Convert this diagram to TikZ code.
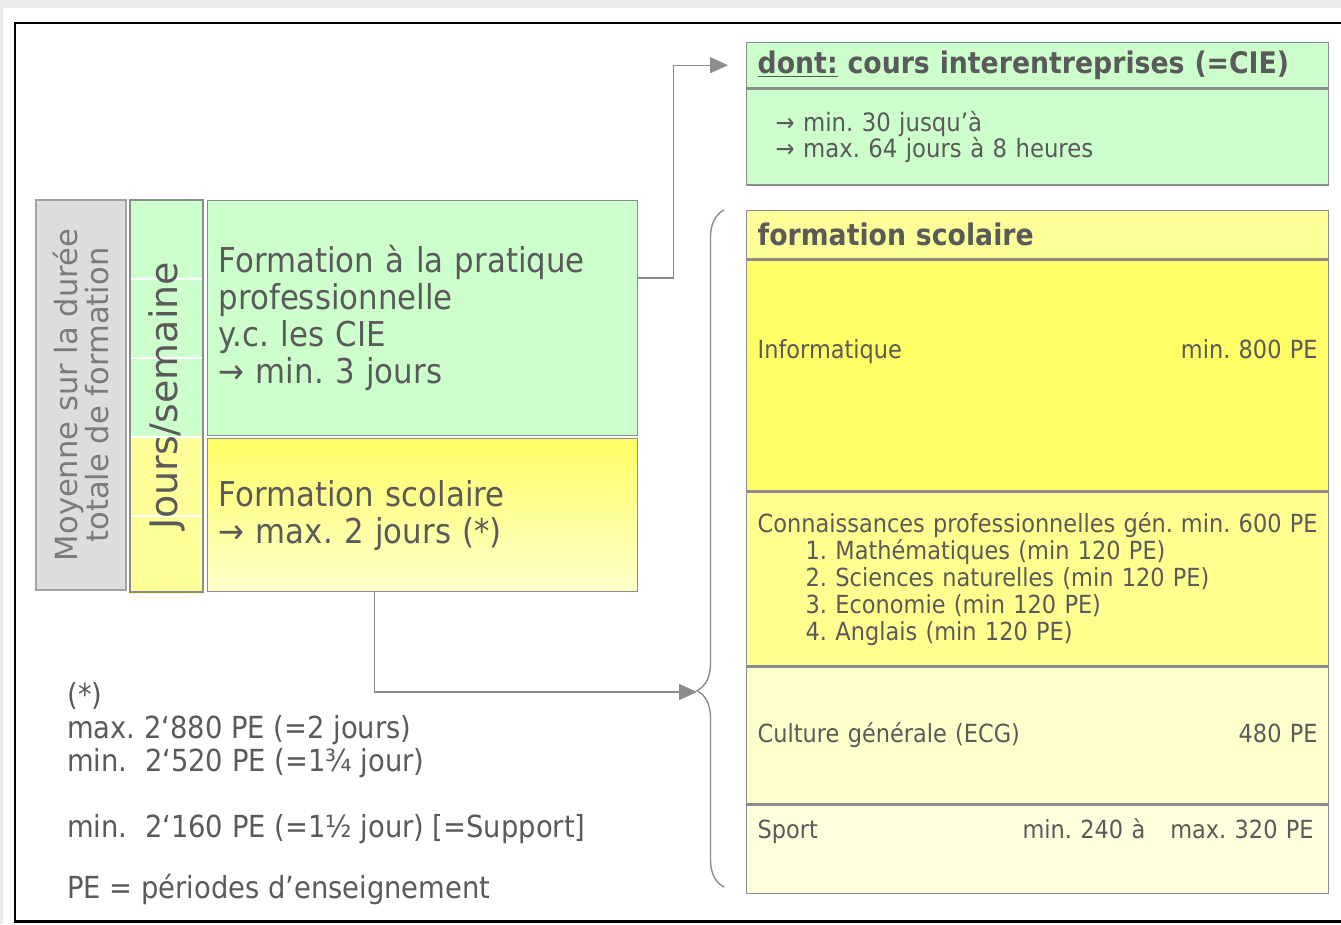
\documentclass[tikz,border=0pt]{standalone}
\usepackage{fontspec}
\setmainfont{DejaVu Sans}[FakeStretch=0.9]
\newfontfamily\wide{DejaVu Sans}
\usetikzlibrary{arrows.meta,decorations.pathreplacing}
\frenchspacing
\definecolor{txtgray}{HTML}{5A5A5A}
\definecolor{linegray}{HTML}{8C8C8C}
\definecolor{pgreen}{HTML}{CCFFCC}
\definecolor{pgray}{HTML}{DDDDDD}
\definecolor{yhead}{HTML}{FFFF99}
\definecolor{yinfo}{HTML}{FFFF66}
\definecolor{yconn}{HTML}{FFFF90}
\definecolor{ycult}{HTML}{FFFFCC}
\definecolor{ysport}{HTML}{FFFFDE}
\newcommand{\fsz}[2]{\fontsize{#1}{#2}\selectfont}
\tikzset{
  box/.style     = {draw=linegray, line width=0.8pt, anchor=north west,
                    inner xsep=0.22cm, inner ysep=0pt, align=left, text=txtgray},
  fsrow/.style   = {box, minimum width=11.64cm, text width=11.2cm,
                    font=\fsz{14.2pt}{15.3pt}},
  linkarr/.style = {-{Triangle[length=0.36cm,width=0.32cm]}, draw=linegray, line width=0.8pt}
}

\begin{document}
\begin{tikzpicture}[x=0.02cm,y=-0.02cm]
  \useasboundingbox (0,0) rectangle (1341,924);
  \fill[black!8] (0,0) rectangle (1341,924);
  \fill[white] (3,8) rectangle (1341,924);
  \draw[black, line width=1.7pt] (1345,23) -- (15,23) -- (15,921) -- (1345,921);

  % left part
  \node[box, fill=pgray, draw=linegray!80, rotate=90, anchor=center, align=center,
        minimum width=7.8cm, minimum height=1.8cm, inner sep=0pt,
        font=\wide\fsz{17.4pt}{18.2pt}, text=txtgray!80] (moy) at (81,395)
        {Moyenne sur la durée\\totale de formation};
  \fill[pgreen] (130,200) rectangle (203,437);
  \fill[yhead] (130,437) rectangle (203,594);
  \foreach \y in {279,358,437,516}
    \draw[white, line width=1pt] (131,\y) -- (202,\y);
  \node[box, rotate=90, anchor=center, align=center, minimum width=7.84cm,
        minimum height=1.46cm, inner sep=0pt, font=\wide\fsz{21.6pt}{22pt}] (jours)
        at (166.5,396) {Jours/semaine};

  \node[box, fill=pgreen, minimum width=8.6cm, minimum height=4.7cm, text width=8.16cm,
        font=\fsz{19.5pt}{21pt}] (prat) at (207,200)
        {Formation à la pratique\\professionnelle\\y.c. les CIE\\→ min. 3 jours};
  \node[box, top color=yinfo, bottom color=ycult, minimum width=8.6cm, minimum height=3.06cm,
        text width=8.16cm, font=\fsz{19.5pt}{21pt}] (scol) at (207,438)
        {Formation scolaire\\→ max. 2 jours (*)};

  % CIE
  \node[fsrow, fill=pgreen, minimum height=0.9cm, font=\bfseries\fsz{16.9pt}{18pt}] (cieh)
        at (746,42) {\underline{dont:} cours interentreprises (=CIE)};
  \node[fsrow, fill=pgreen, minimum height=1.92cm, inner xsep=0.58cm, text width=10.48cm,
        font=\fsz{14.4pt}{14.7pt}] (cieb) at (cieh.south west)
        {→ min. 30 jusqu’à\\→ max. 64 jours à 8 heures};

  % formation scolaire
  \node[fsrow, fill=yhead, minimum height=0.96cm, text depth=0.02cm,
        font=\bfseries\fsz{16.9pt}{18pt}] (fsh)
        at (746,210) {formation scolaire};
  \node[fsrow, fill=yinfo, minimum height=4.62cm, text depth=1.08cm] (info) at (fsh.south west)
        {Informatique\hfill min. 800 PE};
  \node[fsrow, fill=yconn, minimum height=3.46cm] (conn) at (info.south west)
        {Connaissances professionnelles gén.\hfill min. 600 PE\\
         \hspace*{0.96cm}1. Mathématiques (min 120 PE)\\
         \hspace*{0.96cm}2. Sciences naturelles (min 120 PE)\\
         \hspace*{0.96cm}3. Economie (min 120 PE)\\
         \hspace*{0.96cm}4. Anglais (min 120 PE)};
  \node[fsrow, fill=ycult, minimum height=2.74cm] (cult) at (conn.south west)
        {Culture générale (ECG)\hfill 480 PE};
  \node[fsrow, fill=ysport, minimum height=1.76cm, text depth=0.84cm] (sport) at (cult.south west)
        {Sport\hfill min. 240 à\hspace{0.5cm}max. 320 PE\hspace*{0.08cm}};

  % brace and links
  \draw[linegray, line width=0.8pt, decorate,
        decoration={brace, amplitude=0.54cm, aspect=0.29}]
        (724,887) -- (724,210);
  \coordinate (tip) at (697,692);
  \draw[linkarr, shorten >=0.36cm] ([yshift=-1.56cm]prat.north east) -- ++(35,0) |- (cieh.west);
  \draw[linkarr] ([xshift=-0.96cm]scol.south) |- (tip);

  % footnote
  \node[anchor=base west, align=left, inner sep=0pt, text=txtgray, font=\fsz{17.3pt}{18.7pt}]
        (note) at (67,898)
        {(*)\\max. 2‘880 PE (=2 jours)\\min.\ \ 2‘520 PE (=1¾ jour)\\[18.7pt]
         min.\ \ 2‘160 PE (=1½ jour) [=Support]\\[15.9pt]PE = périodes d’enseignement};
\end{tikzpicture}
\end{document}
